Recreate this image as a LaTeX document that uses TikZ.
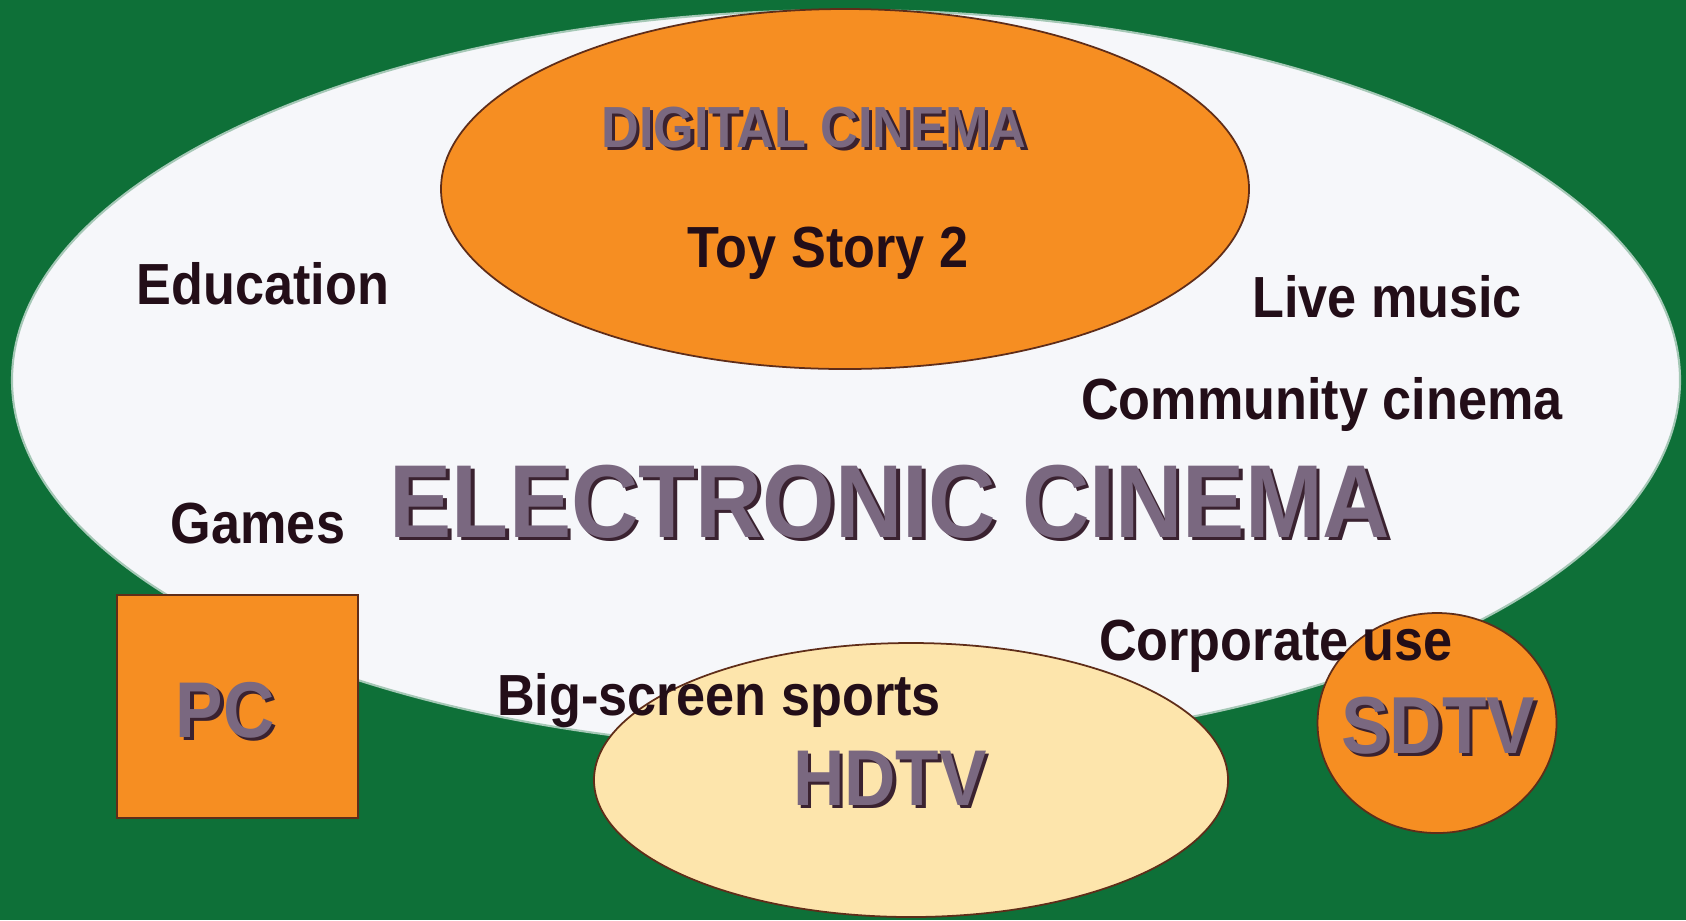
\documentclass[tikz,border=0pt]{standalone}
\usepackage{fontspec}
\setmainfont{Liberation Sans}[FakeStretch=0.9]
\usepackage{tikz}
\usetikzlibrary{shapes.geometric}
\definecolor{bggreen}{RGB}{14,112,56}
\definecolor{screenwhite}{RGB}{246,247,250}
\definecolor{orangefill}{RGB}{246,142,34}
\definecolor{palefill}{RGB}{253,229,172}
\definecolor{edgebrown}{RGB}{95,45,25}
\definecolor{inkdark}{RGB}{35,14,24}
\definecolor{titlegray}{RGB}{122,104,128}
\definecolor{titleshade}{RGB}{58,34,48}
\newcommand*\embossed[1]{\rlap{\kern1pt\raisebox{-1pt}{\textcolor{titleshade}{#1}}}#1}

\begin{document}
\begin{tikzpicture}[
				blob/.style={ellipse, inner sep=0pt, draw=edgebrown, line width=.5pt}
				,usage/.style={text=inkdark, anchor=base, inner sep=0pt, font=\fontsize{16.5}{19}\selectfont\bfseries}
				,bigtext/.style={text=titlegray, anchor=base, inner sep=0pt, font=\fontsize{#1}{#1}\selectfont\bfseries}
				]
				
				\fill[bggreen] (0,0) rectangle (16.86,-9.20);
				
				\node[ellipse, fill=screenwhite, draw=screenwhite!65!bggreen, line width=.6pt, minimum width=16.68cm, minimum height=7.40cm] (ecine) at (8.46,-3.80) {};
				\node[blob, fill=orangefill, minimum width=8.08cm, minimum height=3.60cm] (dcine) at (8.45,-1.89) {};
				\node[blob, fill=palefill, minimum width=6.34cm, minimum height=2.74cm] (hdtv) at (9.11,-7.80) {};
				\node[blob, fill=orangefill, minimum width=2.39cm, minimum height=2.20cm] (sdtv) at (14.37,-7.23) {};
				\node[draw=edgebrown, line width=.5pt, fill=orangefill, minimum width=2.41cm, minimum height=2.23cm] (pc) at (2.375,-7.065) {};
				
				\node[bigtext=16.5] (dcinelbl) at (8.14,-1.47) {\embossed{DIGITAL CINEMA}};
				\node[usage] (toy) at (8.28,-2.67) {Toy Story 2};
				\node[usage] (edu) at (2.63,-3.04) {Education};
				\node[usage] (live) at (13.87,-3.17) {Live music};
				\node[usage] (comm) at (13.22,-4.19) {Community cinema};
				\node[usage] (games) at (2.58,-5.43) {Games};
				\node[bigtext=29.5] (ecinelbl) at (8.90,-5.37) {\embossed{ELECTRONIC CINEMA}};
				\node[usage] (corp) at (12.76,-6.60) {Corporate use};
				\node[usage] (sports) at (7.19,-7.15) {Big-screen sports};
				\node[bigtext=22.5] (pclbl) at (2.25,-7.37) {\embossed{PC}};
				\node[bigtext=22.5] (hdtvlbl) at (8.90,-8.05) {\embossed{HDTV}};
				\node[bigtext=23] (sdtvlbl) at (14.38,-7.53) {\embossed{SDTV}};
			\end{tikzpicture}
\end{document}
